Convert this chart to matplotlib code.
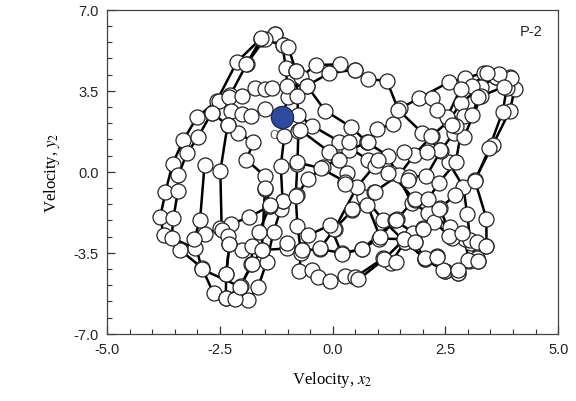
import matplotlib
matplotlib.use("Agg")
import matplotlib.pyplot as plt
from matplotlib.ticker import MultipleLocator, FormatStrFormatter

# trajectory strands (x2, y2)
left_outer_x = [-1.27, -1.59, -2.12, -2.57, -3.01, -3.31, -3.55, -3.71, -3.82, -3.75, -3.38, -2.90, -2.64, -2.37,
                -2.12, -1.87, -1.65, -1.46, -1.31, -1.15, -1.11, -1.15, -1.07, -1.13, -0.98, -1.04, -1.11, -1.27]
left_outer_y = [5.96, 5.76, 4.76, 3.07, 2.35, 1.38, 0.34, -0.89, -1.94, -2.72, -3.38, -4.14, -5.25, -5.46,
                -5.42, -5.53, -4.96, -3.88, -2.59, -1.61, -1.25, 0.26, 1.56, 2.38, 3.22, 4.47, 5.46, 5.96]

long_lap_x = [-1.50, -1.90, -2.27, -2.68, -2.98, -3.23, -3.42, -3.43, -3.53, -3.57, -3.05, -2.82, -2.49, -2.25,
              -1.85, -1.39, -1.11, -0.79, -0.54, -0.21, 0.12, 0.36, 0.77, 0.98, 1.33, 1.49, 1.91, 2.59, 2.93,
              3.35, 3.63, 3.93, 4.04, 3.93, 3.55, 3.15, 3.41, 3.41, 3.22, 2.77, 2.49, 2.04, 1.59, 1.02, 0.65,
              0.20, -0.29, -0.69, -1.02, -1.57, -2.01, -2.29, -2.36, -2.37]
long_lap_y = [5.76, 4.68, 3.32, 2.56, 1.52, 0.80, -0.13, -0.82, -1.99, -2.85, -3.31, -2.70, -2.41, -2.26,
              -1.95, -1.47, -1.25, -1.00, -0.29, 0.19, 0.55, 0.95, 1.27, 1.85, 2.06, 2.74, 3.17, 3.89, 4.04,
              4.28, 4.11, 4.11, 3.60, 2.65, 1.16, -0.35, -2.02, -3.19, -3.85, -4.36, -4.28, -3.78, -2.91, -2.88, -3.35,
              -3.49, -3.35, -3.38, -3.31, -3.38, -3.38, -3.13, -4.42, -5.46]

top_arch_x = [-1.91, -1.58, -1.11, -0.98, -0.82, -0.71, -0.38, 0.17, 0.49, 0.79, 1.20, 1.46, 1.98, 2.39, 2.57,
              2.90, 2.98, 3.06, 3.19]
top_arch_y = [4.65, 5.77, 5.46, 5.38, 4.37, 4.09, 4.61, 4.65, 4.42, 4.00, 3.94, 2.67, 1.70, 0.95, 0.41,
              -0.65, -1.80, -3.06, -3.74]

upper_arc_x = [-0.57, -0.09, 0.49]
upper_arc_y = [3.72, 4.25, 4.42]

cluster_a_x = [-2.53, -2.29, -2.00, -1.72, -1.51, -1.35, -1.02, -0.57, -0.17, 0.40, 0.77, 1.22, 1.75, 2.12, 2.61,
               2.93, 3.02]
cluster_a_y = [3.08, 3.25, 3.29, 3.61, 3.58, 3.61, 3.72, 3.72, 2.65, 1.95, 1.27, 0.70, -1.33, -1.76, -2.40,
               -2.91, -3.85]

cluster_b_x = [-2.25, -2.00, -1.80, -1.51, -1.13, -0.76, -0.46, 0.15, 0.79, 1.29, 1.83, 2.38, 2.64, 3.05]
cluster_b_y = [2.64, 2.50, 2.43, 2.71, 2.38, 2.46, 2.00, 1.31, 0.52, -0.05, -1.23, -1.58, -2.85, -2.95]

cluster_c_x = [-2.68, -2.33, -2.09, -1.76, -1.91, -1.51, -1.51, -1.39, -1.64, -1.78, -1.80, -2.04, -2.17]
cluster_c_y = [2.56, 2.02, 1.70, 1.27, 0.52, -0.17, -0.75, -1.47, -2.62, -3.20, -4.00, -4.93, -5.51]

vert_a_x = [-2.84, -2.94, -3.07, -2.90, -2.05, -1.79, -1.57, -1.50, -1.39]
vert_a_y = [0.30, -2.09, -2.91, -4.21, -4.96, -4.00, -3.38, -0.71, -1.44]

vert_b_x = [-2.33, -2.49, -2.46, -2.33, -2.29, -2.36]
vert_b_y = [2.02, 0.04, -2.52, -2.77, -3.13, -4.42]

vert_c_x = [-0.82, -0.78, -0.76, -0.78, -0.82, -0.78, -0.70, -0.74, -0.46, -0.32, -0.06, 0.28, 0.49, 1.12, 1.29,
            1.60, 1.83, 2.04, 2.32, 2.49, 2.77, 3.00, 3.22]
vert_c_y = [4.37, 3.29, 1.78, 0.33, -1.04, -2.34, -3.49, -4.28, -4.25, -4.56, -4.71, -4.49, -4.56, -3.74, -3.95,
            -3.02, -3.02, -3.78, -3.64, -4.28, -4.36, -3.81, -3.85]

diag_a_x = [-0.72, -0.08, 0.31, 0.70, 1.12, 1.60, 2.05, 2.45, 2.77]
diag_a_y = [1.81, 0.87, -0.05, -1.08, -2.09, -3.02, -3.74, -4.25, -4.26]

diag_b_x = [-0.80, -0.26, 0.28, 0.77, 1.05, 1.38, 1.79, 2.00, 2.25, 2.58, 2.86, 3.19, 3.41]
diag_b_y = [0.41, 0.16, -0.43, -1.44, -2.81, -2.09, -2.63, -2.42, -2.16, -2.75, -2.66, -3.02, -3.19]

rise_a_x = [-0.28, 0.05, 0.44, 0.92, 1.48, 1.81, 2.20, 2.58, 2.84, 3.28, 3.63]
rise_a_y = [-3.31, -2.45, -1.66, -0.87, -0.12, 0.73, 1.56, 2.21, 2.96, 3.67, 4.11]

rise_b_x = [0.57, 1.14, 1.59, 2.00, 2.36, 2.71, 3.16, 3.47, 3.77, 3.86, 3.96, 3.69, 3.42, 3.08, 2.84, 2.54]
rise_b_y = [-4.65, -3.78, -2.91, -2.48, -1.61, -1.01, -0.39, 1.01, 2.60, 3.61, 4.04, 4.23, 4.27, 3.72, 3.60, 2.38]

rise_c_x = [-0.04, 0.04, 0.54, 0.93, 1.22, 1.69, 2.08, 2.40, 2.69, 2.91, 3.30, 3.80]
rise_c_y = [-2.34, -2.48, -0.65, 0.26, -0.03, -0.22, -0.17, 0.91, 1.70, 1.49, 3.29, 3.67]

rise_d_x = [-1.02, -0.69, -0.54, -0.06, 0.20, 0.65, 1.42, 1.83, 2.12, 2.36, 2.73, 2.91, 3.10, 3.23]
rise_d_y = [-3.06, -3.38, -2.74, -2.30, -3.53, -3.35, -2.05, -1.18, -1.18, -0.46, 0.41, 2.43, 2.46, 3.25]

extra_x = [0.13, 0.37, 0.79, 1.01, 0.27, 0.44, 0.93, 1.83, 2.17, 2.39, 2.10, 1.59, 2.21, 2.32, 2.73, 2.65, 1.40,
           1.40, 1.68, 2.31]
extra_y = [0.52, 1.31, 1.31, 0.52, -0.53, -1.61, -0.89, -3.02, 1.56, 0.95, 0.87, 0.87, 3.17, 2.67, 1.99, 2.02,
           -2.09, -3.88, -0.36, -3.67]

strands = [
    (left_outer_x, left_outer_y), (long_lap_x, long_lap_y), (top_arch_x, top_arch_y),
    (upper_arc_x, upper_arc_y), (cluster_a_x, cluster_a_y), (cluster_b_x, cluster_b_y),
    (cluster_c_x, cluster_c_y), (vert_a_x, vert_a_y), (vert_b_x, vert_b_y), (vert_c_x, vert_c_y),
    (diag_a_x, diag_a_y), (diag_b_x, diag_b_y), (rise_a_x, rise_a_y), (rise_b_x, rise_b_y),
    (rise_c_x, rise_c_y), (rise_d_x, rise_d_y),
]

start_x = -1.13
start_y = 2.38

plt.rcParams['font.family'] = ['Liberation Sans', 'DejaVu Sans']
plt.rcParams['mathtext.fontset'] = 'stix'

fig = plt.figure(figsize=(5.76, 4.02), dpi=100)
ax = fig.add_axes([0.186, 0.167, 0.783, 0.806])

for xs, ys in strands:
    ax.plot(xs, ys, '-', color='black', lw=1.8, zorder=2)
for xs, ys in strands:
    ax.plot(xs, ys, 'o', ms=10.8, mfc='white', mec='#222222', mew=0.9, zorder=3)
ax.plot(extra_x, extra_y, 'o', ms=10.8, mfc='white', mec='#222222', mew=0.9, zorder=3)

ax.text(-1.31, 1.58, 'C', color='#555555', fontsize=9, ha='center', va='center', zorder=2.5)
ax.plot([start_x], [start_y], 'o', ms=16, mfc='#2e4a9e', mec='#1a2a60', mew=0.9, zorder=4)

ax.text(0.965, 0.955, 'P-2', transform=ax.transAxes, ha='right', va='top', fontsize=10.5, color='#222222')

ax.set_xlim(-5, 5)
ax.set_ylim(-7, 7)
ax.xaxis.set_major_locator(MultipleLocator(2.5))
ax.xaxis.set_minor_locator(MultipleLocator(0.5))
ax.yaxis.set_major_locator(MultipleLocator(3.5))
ax.yaxis.set_minor_locator(MultipleLocator(0.7))
ax.xaxis.set_major_formatter(FormatStrFormatter('%.1f'))
ax.yaxis.set_major_formatter(FormatStrFormatter('%.1f'))
ax.tick_params(which='both', direction='in', top=False, right=False, colors='#333333',
               labelsize=10.5, labelcolor='#222222')
ax.tick_params(which='major', length=6, width=0.9, pad=6)
ax.tick_params(which='minor', length=3.5, width=0.8)
for s in ax.spines.values():
    s.set_color('#444444')
    s.set_linewidth(0.9)

ax.set_xlabel('Velocity, $x_2$', family='Liberation Serif', fontsize=12, labelpad=9)
ax.set_ylabel('Velocity, $y_2$', family='Liberation Serif', fontsize=12, labelpad=8)

fig.savefig('out.png', dpi=100)
